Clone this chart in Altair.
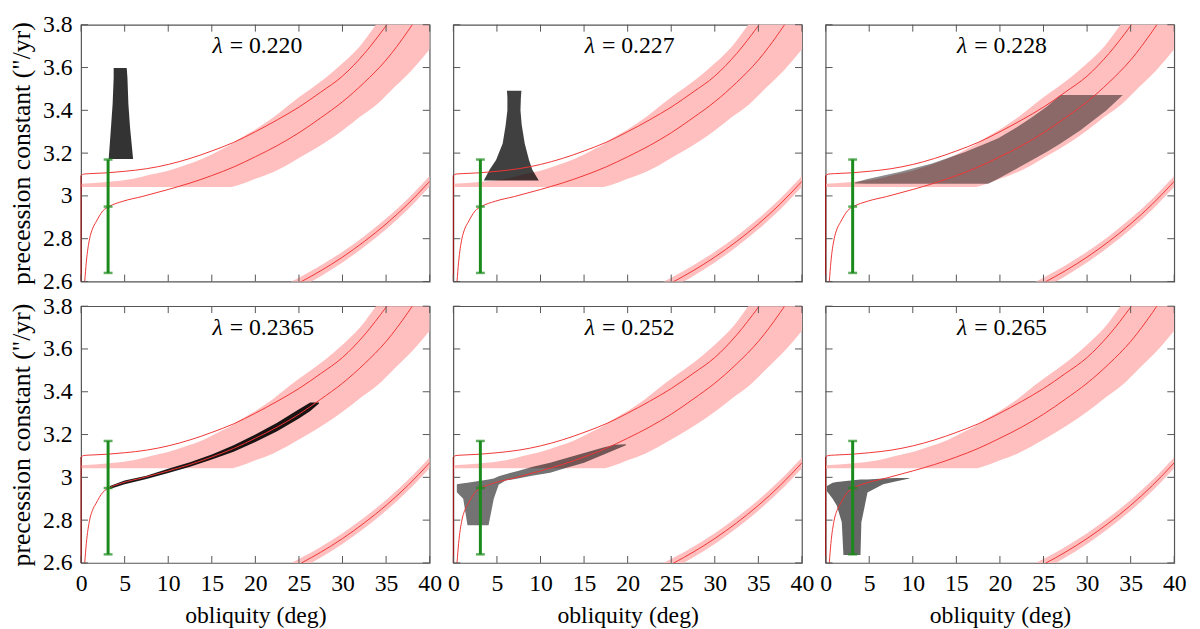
import altair as alt
import pandas as pd

# values
lambdas = ["0.220", "0.227", "0.228", "0.2365", "0.252", "0.265"]

x_ticks = [0, 5, 10, 15, 20, 25, 30, 35, 40]
y_ticks = [2.6, 2.8, 3.0, 3.2, 3.4, 3.6, 3.8]

# upper red curve and its vertical stem at zero obliquity
stem_x = [0.0]
stem_lo = [2.6]
stem_hi = [3.095]
upper_x = [0.0, 0.3, 1, 3, 5, 7.5, 10, 12.5, 15, 17.5, 20, 22.5, 25, 27.5, 30, 32.5, 35, 36]
upper_y = [3.095, 3.102, 3.104, 3.108, 3.115, 3.127, 3.147, 3.175, 3.21, 3.25, 3.30, 3.355,
           3.415, 3.485, 3.56, 3.665, 3.795, 3.85]

# lower red curve
lower_x = [0.42, 0.6, 0.98, 1.3, 1.7, 2.5, 3.2, 4.8, 7, 10, 12.5, 15, 17.5, 20, 22.5, 25,
           27.5, 30, 32.5, 35, 37.5, 38.5]
lower_y = [2.6, 2.69, 2.80, 2.845, 2.877, 2.93, 2.95, 2.975, 2.997, 3.03, 3.06, 3.095, 3.135,
           3.183, 3.235, 3.295, 3.365, 3.44, 3.53, 3.635, 3.77, 3.83]

# broad pink band
band_x = [0, 3, 6, 8, 10, 12, 14, 16, 17.2, 18, 20, 22, 24, 26, 28, 30, 32, 34, 36, 38, 40]
band_lo = [3.042, 3.042, 3.042, 3.042, 3.042, 3.042, 3.042, 3.042, 3.042, 3.05, 3.08, 3.11,
           3.153, 3.20, 3.25, 3.306, 3.37, 3.43, 3.51, 3.59, 3.685]
band_hi = [3.057, 3.065, 3.08, 3.10, 3.118, 3.145, 3.175, 3.215, 3.24, 3.262, 3.31, 3.365,
           3.43, 3.49, 3.55, 3.62, 3.70, 3.81, 3.93, 4.06, 4.2]

# thin band at large obliquity
third_x = [24.0, 25.3, 27.5, 30, 32.5, 35, 37.5, 40]
third_y = [2.572, 2.6, 2.65, 2.714, 2.787, 2.869, 2.962, 3.068]
third_lo = [2.547, 2.575, 2.625, 2.689, 2.762, 2.844, 2.937, 3.043]
third_hi = [2.597, 2.625, 2.675, 2.739, 2.812, 2.894, 2.987, 3.093]

# observed value with error bar
err_x = [3.1]
err_lo = [2.64]
err_mid = [2.95]
err_hi = [3.17]

# simulated clouds (outlines)
cloud1_y = [3.172, 3.32, 3.429, 3.552, 3.598]
cloud1_l = [3.17, 3.43, 3.62, 3.74, 3.74]
cloud1_r = [5.97, 5.62, 5.43, 5.32, 5.24]

cloud2_y = [3.072, 3.122, 3.168, 3.245, 3.33, 3.40, 3.46, 3.491]
cloud2_l = [3.5, 4.15, 4.9, 5.66, 6.0, 6.2, 6.2, 6.15]
cloud2_r = [9.8, 9.06, 8.68, 8.19, 7.85, 7.7, 7.75, 7.81]

cloud3_x = [3.36, 4.68, 8.46, 12.2, 16.0, 18.65, 19.8, 21.7, 23.6, 25.4, 26.95, 29.2, 32.2, 34.1]
cloud3_lo = [3.058, 3.057, 3.057, 3.057, 3.057, 3.057, 3.08, 3.122, 3.165, 3.206, 3.245, 3.306,
             3.399, 3.472]
cloud3_hi = [3.063, 3.078, 3.112, 3.152, 3.205, 3.25, 3.27, 3.315, 3.365, 3.418, 3.472, 3.472,
             3.472, 3.472]

cloud4_x = [3.3, 5, 7.5, 10, 12.5, 15, 17.5, 20, 22.5, 25, 26.3, 27.3]
cloud4_lo = [2.945, 2.968, 2.992, 3.02, 3.05, 3.083, 3.12, 3.165, 3.215, 3.275, 3.31, 3.345]
cloud4_hi = [2.96, 2.985, 3.008, 3.04, 3.07, 3.107, 3.15, 3.2, 3.255, 3.318, 3.35, 3.35]

cloud5_x = [0.4, 1.13, 1.62, 4.04, 4.64, 5.2, 6.0, 7.4, 9.0, 11.1, 13.0, 15.0, 17.2, 18.5, 19.8]
cloud5_lo = [2.93, 2.90, 2.776, 2.776, 2.90, 2.965, 2.985, 2.995, 3.008, 3.022, 3.045, 3.068,
             3.106, 3.128, 3.15]
cloud5_hi = [2.968, 2.972, 2.975, 2.99, 2.995, 3.005, 3.015, 3.03, 3.048, 3.068, 3.09, 3.114,
             3.14, 3.152, 3.155]

cloud6_x = [0.15, 0.8, 1.28, 1.85, 2.04, 4.0, 4.1, 4.5, 4.8, 6.6, 8.0, 9.6]
cloud6_lo = [2.935, 2.90, 2.868, 2.79, 2.637, 2.637, 2.79, 2.868, 2.929, 2.968, 2.98, 2.994]
cloud6_hi = [2.96, 2.975, 2.978, 2.981, 2.982, 2.99, 2.99, 2.99, 2.99, 2.995, 2.997, 2.997]

clouds = [
    ("h", pd.DataFrame({"y": cloud1_y, "l": cloud1_l, "r": cloud1_r})),
    ("h", pd.DataFrame({"y": cloud2_y, "l": cloud2_l, "r": cloud2_r})),
    ("v", pd.DataFrame({"x": cloud3_x, "lo": cloud3_lo, "hi": cloud3_hi})),
    ("v", pd.DataFrame({"x": cloud4_x, "lo": cloud4_lo, "hi": cloud4_hi})),
    ("v", pd.DataFrame({"x": cloud5_x, "lo": cloud5_lo, "hi": cloud5_hi})),
    ("v", pd.DataFrame({"x": cloud6_x, "lo": cloud6_lo, "hi": cloud6_hi})),
]
cloud_opacity = [0.8, 0.75, 0.45, 0.9, 0.55, 0.6]

PINK = "#ffbfbf"
RED = "#f03535"
GREEN = "#1a8a1a"
FRAME = "#555555"
FONT = "'Liberation Serif', 'DejaVu Serif', serif"
W, H = 353, 260
TL = 7

xs = alt.Scale(domain=[0, 40], nice=False, zero=False)
ys = alt.Scale(domain=[2.6, 3.8], nice=False, zero=False)

band_df = pd.DataFrame({"x": band_x, "lo": band_lo, "hi": band_hi})
third_df = pd.DataFrame({"x": third_x, "lo": third_lo, "hi": third_hi})
upper_df = pd.DataFrame({"x": upper_x, "y": upper_y})
lower_df = pd.DataFrame({"x": lower_x, "y": lower_y})
third_line_df = pd.DataFrame({"x": third_x, "y": third_y})
stem_df = pd.DataFrame({"x": stem_x, "lo": stem_lo, "hi": stem_hi})
err_df = pd.DataFrame({"x": err_x, "lo": err_lo, "hi": err_hi})
cap_df = pd.DataFrame({"x": err_x * 3, "y": err_lo + err_mid + err_hi})
xt_df = pd.DataFrame({"v": x_ticks})
yt_df = pd.DataFrame({"v": y_ticks})


def panel(i):
    row, col = divmod(i, 3)
    if row == 1:
        xaxis = alt.Axis(values=x_ticks, title="obliquity (deg)", labelPadding=9,
                         titlePadding=8, labelOverlap=False, labelFlush=False)
    else:
        xaxis = None
    if col == 0:
        yaxis = alt.Axis(values=y_ticks, format="~g", title='precession constant ("/yr)',
                         titleFontSize=26, labelPadding=9, titlePadding=8,
                         labelOverlap=False, labelFlush=False)
    else:
        yaxis = None

    def X(f):
        return alt.X(f, type="quantitative", scale=xs, axis=xaxis)

    def Y(f):
        return alt.Y(f, type="quantitative", scale=ys, axis=yaxis)

    layers = [
        alt.Chart(band_df).mark_area(color=PINK, interpolate="monotone", clip=True)
        .encode(x=X("x"), y=Y("lo"), y2="hi"),
        alt.Chart(third_df).mark_area(color=PINK, interpolate="monotone", clip=True)
        .encode(x=X("x"), y=Y("lo"), y2="hi"),
    ]
    kind, cdf = clouds[i]
    if kind == "h":
        layers.append(
            alt.Chart(cdf).mark_area(color="black", opacity=cloud_opacity[i], orient="horizontal", clip=True)
            .encode(y=Y("y"), x=X("l"), x2="r"))
    else:
        layers.append(
            alt.Chart(cdf).mark_area(color="black", opacity=cloud_opacity[i], clip=True)
            .encode(x=X("x"), y=Y("lo"), y2="hi"))
    for d in (upper_df, lower_df, third_line_df):
        layers.append(
            alt.Chart(d).mark_line(color=RED, strokeWidth=1, interpolate="monotone", clip=True)
            .encode(x=X("x"), y=Y("y")))
    layers += [
        alt.Chart(stem_df).mark_rule(color="#a01515", strokeWidth=1.2)
        .encode(x=X("x"), y=Y("lo"), y2="hi"),
        alt.Chart(err_df).mark_rule(color=GREEN, strokeWidth=3)
        .encode(x=X("x"), y=Y("lo"), y2="hi"),
        alt.Chart(cap_df).mark_tick(color=GREEN, orient="horizontal", size=9, thickness=2.5)
        .encode(x=X("x"), y=Y("y")),
        # inward ticks on all four sides
        alt.Chart(xt_df).mark_rule(color=FRAME).encode(x=X("v"), y=alt.value(H), y2=alt.value(H - TL)),
        alt.Chart(xt_df).mark_rule(color=FRAME).encode(x=X("v"), y=alt.value(0), y2=alt.value(TL)),
        alt.Chart(yt_df).mark_rule(color=FRAME).encode(y=Y("v"), x=alt.value(0), x2=alt.value(TL)),
        alt.Chart(yt_df).mark_rule(color=FRAME).encode(y=Y("v"), x=alt.value(W - TL), x2=alt.value(W)),
        alt.Chart(pd.DataFrame({"t": ["λ"]})).mark_text(
            font=FONT, fontSize=24, fontStyle="italic", baseline="alphabetic", align="right",
            color="black")
        .encode(text="t:N", x=alt.value(W / 2 - 33), y=alt.value(29)),
        alt.Chart(pd.DataFrame({"t": ["= " + lambdas[i]]})).mark_text(
            font=FONT, fontSize=24, baseline="alphabetic", align="left", color="black")
        .encode(text="t:N", x=alt.value(W / 2 - 26), y=alt.value(29)),
    ]
    return alt.layer(*layers).properties(width=W, height=H)


chart = alt.concat(*[panel(i) for i in range(6)], columns=3,
                   spacing={"row": 25, "column": 24}, bounds="flush").properties(
    padding={"left": 0, "top": 0, "right": 5, "bottom": 0}
).configure_view(stroke=FRAME, strokeWidth=1.2).configure_axis(
    labelFont=FONT, titleFont=FONT, labelFontSize=24, titleFontSize=24,
    labelColor="black", titleColor="black", titleFontWeight="normal",
    ticks=False, domain=False, grid=False
)

chart.save("out.html", embed_options={"renderer": "svg", "actions": False})
